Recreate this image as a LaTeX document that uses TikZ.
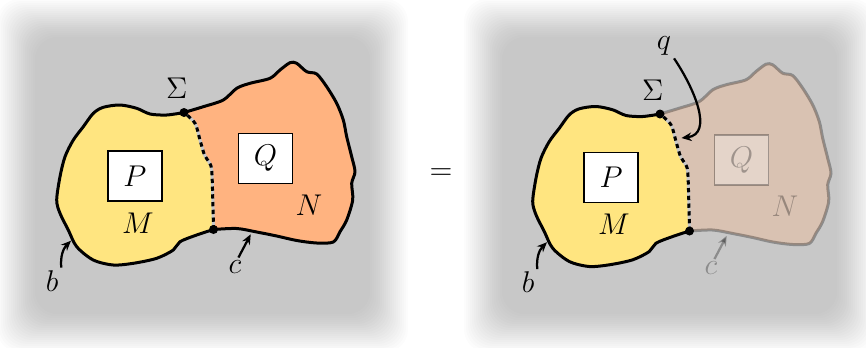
\documentclass[tikz,border=0pt]{standalone}
\usepackage{amsmath}
\usepackage{xcolor}
\usepackage{tikz}
\usetikzlibrary{arrows.meta}
\definecolor{regionM}{RGB}{255,229,128}
\definecolor{regionN}{RGB}{255,179,128}
\definecolor{seamgray}{RGB}{200,200,200}

\begin{document}
\begin{tikzpicture}[
    x=0.4pt, y=-0.4pt,
    font=\large,
    rim/.style={line width=1.2pt, line join=round},
    opbox/.style={draw, fill=white, line width=0.6pt, minimum width=21.6pt,
                  minimum height=20pt, inner sep=0pt},
    lbl/.style={inner sep=1pt},
    arr/.style={-{Stealth[length=4pt, width=3.4pt]}, line width=0.9pt},
    dot/.style={circle, fill=black, inner sep=0pt, minimum size=3.6pt},
    haze/.style={fill=black, opacity=0.0111, rounded corners=9pt},
  ]
  \useasboundingbox (0,0) rectangle (866,347);
  \foreach \px in {15, 482}
    \foreach \i in {0,...,19}
      \path[haze] (\px-18+2*\i, -1+2*\i) rectangle (\px+375+18-2*\i, 352-2*\i);
  \foreach \dx/\dy/\op/\k in {0/0/1/l, 476/1.5/0.3/r} {
    \begin{scope}[shift={(\dx,\dy)}]
      \begin{scope}[opacity=\op]
        \fill[regionN] plot[smooth] coordinates {(184,112.5) (203.3,106.7) (223.3,100)
          (236.7,88.3) (250,83.3) (270,78.3) (280,70) (290,62.7) (296.7,63.3) (306.7,71.7)
          (316.7,74) (326.7,86.7) (336.7,103.3) (343.3,120) (346.7,136.7) (351.7,156.7)
          (355,171.7) (351.7,183.3) (352.7,200) (346.7,220) (340,231.7) (333.3,242)
          (316.7,243) (296.7,240.5) (276.7,236) (256.7,232) (236.7,228.5) (213.5,229.5)}
          -- plot[smooth] coordinates {(213.5,229.5) (212.8,200) (211.7,170) (209,162)
          (204.5,155) (200,140) (195,123.3) (184,112.5)} -- cycle;
        \draw[rim] plot[smooth] coordinates {(184,112.5) (203.3,106.7) (223.3,100)
          (236.7,88.3) (250,83.3) (270,78.3) (280,70) (290,62.7) (296.7,63.3) (306.7,71.7)
          (316.7,74) (326.7,86.7) (336.7,103.3) (343.3,120) (346.7,136.7) (351.7,156.7)
          (355,171.7) (351.7,183.3) (352.7,200) (346.7,220) (340,231.7) (333.3,242)
          (316.7,243) (296.7,240.5) (276.7,236) (256.7,232) (236.7,228.5) (213.5,229.5)};
        \node[opbox] (Q\k) at (265.5,158.3) {$Q$};
        \node[lbl] (N\k) at (309,205) {$N$};
        \node[lbl] (c\k) at (235,267) {$c$};
        \coordinate (ct\k) at (250.7,234.3);
        \draw[arr] (c\k.70) -- (ct\k);
      \end{scope}
      \fill[regionM] plot[smooth] coordinates {(184,112.5) (166.7,115) (150,114)
        (136.7,108.3) (120,105) (103.3,107.3) (93.3,113.3) (83.3,126.7) (73.3,140)
        (65,156.7) (60,176.7) (56.7,200) (60,213.3) (68.3,230) (76.7,246.7) (93.3,260)
        (113.3,265) (133.3,263.3) (156.7,258.3) (173.3,250) (180,241.7) (196.7,235)
        (213.5,229.5)}
        -- plot[smooth] coordinates {(213.5,229.5) (212.8,200) (211.7,170) (209,162)
        (204.5,155) (200,140) (195,123.3) (184,112.5)} -- cycle;
      \draw[rim] plot[smooth] coordinates {(184,112.5) (166.7,115) (150,114)
        (136.7,108.3) (120,105) (103.3,107.3) (93.3,113.3) (83.3,126.7) (73.3,140)
        (65,156.7) (60,176.7) (56.7,200) (60,213.3) (68.3,230) (76.7,246.7) (93.3,260)
        (113.3,265) (133.3,263.3) (156.7,258.3) (173.3,250) (180,241.7) (196.7,235)
        (213.5,229.5)};
      \draw[rim, seamgray] plot[smooth] coordinates {(213.5,229.5) (212.8,200)
        (211.7,170) (209,162) (204.5,155) (200,140) (195,123.3) (184,112.5)};
      \draw[rim, dash pattern=on 1.7pt off 1.4pt] plot[smooth] coordinates {(213.5,229.5)
        (212.8,200) (211.7,170) (209,162) (204.5,155) (200,140) (195,123.3) (184,112.5)};
      \node[dot] (s\k) at (184,112.5) {};
      \node[dot] (e\k) at (213.5,229.5) {};
      \node[lbl] (sig\k) at (176.7,88.7) {$\Sigma$};
      \node[opbox] (P\k) at (135,176) {$P$};
      \node[lbl] (M\k) at (138,223) {$M$};
      \node[lbl] (b\k) at (52,281) {$b$};
      \coordinate (bt\k) at (71,240.7);
      \draw[arr] (b\k.north east) to[bend left=25] (bt\k);
    \end{scope}
  }
  \node (eq) at (441,174) {$=$};
  \node[lbl] (q) at (664,46) {$q$};
  \coordinate (qt) at (681.5,138);
  \draw[arr] (q.south east) .. controls (694,88) and (714,134) .. (qt);
\end{tikzpicture}
\end{document}
